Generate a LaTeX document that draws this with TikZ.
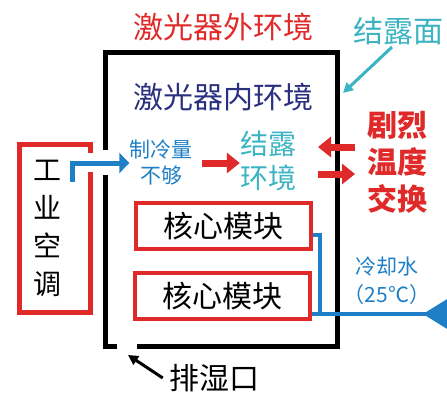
\documentclass[tikz,border=0pt]{standalone}
\usepackage{fontspec}
\setmainfont{Noto Sans CJK SC}
\usetikzlibrary{arrows.meta}
\definecolor{cred}{HTML}{E02A2A}
\definecolor{cnavy}{HTML}{2B2F80}
\definecolor{cteal}{HTML}{3BB3C3}
\definecolor{cblue}{HTML}{1E7FC6}
\tikzset{
  txt/.style={inner sep=0pt, font=\fontsize{#1}{#1}\selectfont},
  txt/.default=30,
  core/.style={draw=cred, line width=4.5pt, minimum width=175pt, minimum height=46pt, inner sep=0pt, font=\fontsize{30}{30}\selectfont},
  fatarrow/.style={line width=7pt, -{Triangle[length=13pt,width=20pt]}},
}
\begin{document}
\begin{tikzpicture}[x=1pt,y=-1pt]
\useasboundingbox (0,0) rectangle (447,392);
% laser enclosure
\draw[line width=5pt] (105.5,150) -- (105.5,52.5) -- (337.5,52.5) -- (337.5,346.5) -- (137,346.5);
\draw[line width=5pt] (117,346.5) -- (105.5,346.5) -- (105.5,175);
% industrial AC frame
\draw[cred, line width=5pt] (90,153) -- (90,144.5) -- (19.5,144.5) -- (19.5,312.5) -- (90,312.5) -- (90,172);
% texts
\node[txt, text=cred] (outer) at (223,27) {激光器外环境};
\node[txt, text=cteal] (face) at (398,31) {结露面};
\node[txt, text=cnavy] (inner) at (223,97) {激光器内环境};
\node[txt=21, text=cblue, align=center] (cool) at (161,163) {制冷量\\[5pt]不够};
\node[txt=28, text=cteal, align=center] (dew) at (268,161) {结露\\[6pt]环境};
\node[txt, text=cred, font=\fontsize{30}{30}\selectfont\bfseries, align=center] (swap) at (397,162) {剧烈\\[7pt]温度\\[7pt]交换};
\node[txt=28, align=center] (ac) at (47,228) {工\\[10pt]业\\[10pt]空\\[10pt]调};
\node[core] (m1) at (223.5,226) {核心模块};
\node[core] (m2) at (222.5,296) {核心模块};
\node[txt=21, text=cblue] (water) at (387,267) {冷却水};
\node[txt=21, text=cblue] (temp) at (387,295) {（25℃）};
\node[txt] (vent) at (214,378) {排湿口};
\coordinate (ventgap) at (128,355);
\coordinate (wall) at (343,93);
% arrows
\draw[cblue, line width=5pt, -{Triangle[length=10pt,width=20pt]}] (72,182) -- (72,163) -- (cool.west |- 0,163);
\draw[cred, fatarrow] (202,163) -- (dew.west |- 0,163);
\draw[cred, fatarrow] (355,147) -- (318,147);
\draw[cred, fatarrow] (318,174) -- (355,174);
\draw[cteal, line width=3pt, -{Triangle[length=10pt,width=10pt]}] (face.south) ++(-6,2) -- (wall);
\draw[line width=3pt, -{Triangle[length=10pt,width=10pt]}] (vent.west) ++(-6,0) -- (ventgap);
% cooling water pipe
\draw[cblue, line width=4pt] (m1.east |- 0,235) -- (320,235) -- (320,314);
\draw[cblue, line width=4pt] (m2.east |- 0,314) -- (450,314);
\fill[cblue] (423,314) -- (452,296) -- (452,332) -- cycle;
\end{tikzpicture}
\end{document}
